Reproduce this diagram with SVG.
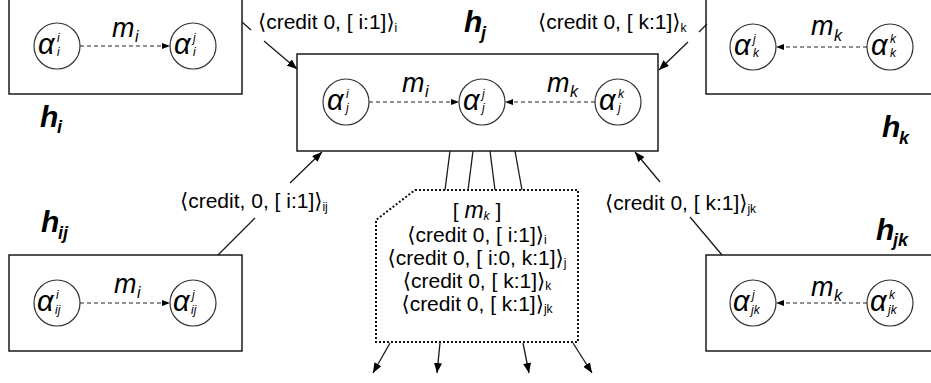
<svg xmlns="http://www.w3.org/2000/svg" width="931" height="383" viewBox="0 0 931 383">
<defs>
<marker id="ah" viewBox="0 0 10 8" refX="10" refY="4" markerWidth="10" markerHeight="8" markerUnits="userSpaceOnUse" orient="auto"><path d="M0 0 L10 4 L0 8 Z" fill="#000"/></marker>
<marker id="ahs" viewBox="0 0 8 6" refX="8" refY="3" markerWidth="8" markerHeight="6" markerUnits="userSpaceOnUse" orient="auto"><path d="M0 0 L8 3 L0 6 Z" fill="#000"/></marker>
<style>
.box{fill:#fff;stroke:#1a1a1a;stroke-width:1.5}
.c{fill:#fff;stroke:#333;stroke-width:1.2}
.a{font-family:"Liberation Sans",Arial,sans-serif;font-style:italic;font-size:29px;fill:#000}
.s{font-family:"Liberation Sans",Arial,sans-serif;font-style:italic;font-size:12px;fill:#000}
.h{font-family:"Liberation Sans",Arial,sans-serif;font-style:italic;font-weight:bold;font-size:30px;fill:#000}
.hs{font-family:"Liberation Sans",Arial,sans-serif;font-style:italic;font-weight:bold;font-size:18px;fill:#000}
.m{font-family:"Liberation Sans",Arial,sans-serif;font-style:italic;font-size:27px;fill:#000}
.ms{font-family:"Liberation Sans",Arial,sans-serif;font-style:italic;font-size:16px;fill:#000}
.t{font-family:"Liberation Sans",Arial,"DejaVu Sans",sans-serif;font-size:21px;fill:#000}
.ts{font-size:12px}
.ln{fill:none;stroke:#1a1a1a;stroke-width:1.3}
.dl{fill:none;stroke:#222;stroke-width:1.2;stroke-dasharray:4 3}
.dot{fill:none;stroke:#111;stroke-width:2;stroke-dasharray:2 2}
</style>
</defs>

<g id="h_i">
<rect class="box" x="9" y="-2" width="233" height="96"/>
<g id="a_i_i"><circle class="c" cx="57" cy="46" r="23"/><text class="a" x="38" y="54">α</text><text class="s" x="57" y="42">i</text><text class="s" x="57" y="56">i</text></g>
<g id="a_i_j"><circle class="c" cx="193" cy="46" r="23"/><text class="a" x="174" y="54">α</text><text class="s" x="193" y="42">j</text><text class="s" x="193" y="56">i</text></g>
<text class="h" x="40" y="127">h</text><text class="hs" x="57" y="133">i</text>
</g>

<g id="h_j">
<rect class="box" x="297" y="54" width="361" height="97"/>
<g id="a_j_i"><circle class="c" cx="346" cy="102" r="23"/><text class="a" x="327" y="110">α</text><text class="s" x="346" y="98">i</text><text class="s" x="346" y="112">j</text></g>
<g id="a_j_j"><circle class="c" cx="482" cy="102" r="23"/><text class="a" x="463" y="110">α</text><text class="s" x="482" y="98">j</text><text class="s" x="482" y="112">j</text></g>
<g id="a_j_k"><circle class="c" cx="618" cy="102" r="23"/><text class="a" x="599" y="110">α</text><text class="s" x="618" y="98">k</text><text class="s" x="618" y="112">j</text></g>
<text class="h" x="464" y="32">h</text><text class="hs" x="481" y="39">j</text>
</g>

<g id="h_k">
<rect class="box" x="706" y="-2" width="240" height="96"/>
<g id="a_k_j"><circle class="c" cx="753" cy="47" r="23"/><text class="a" x="734" y="55">α</text><text class="s" x="753" y="43">j</text><text class="s" x="753" y="57">k</text></g>
<g id="a_k_k"><circle class="c" cx="890" cy="47" r="23"/><text class="a" x="871" y="55">α</text><text class="s" x="890" y="43">k</text><text class="s" x="890" y="57">k</text></g>
<text class="h" x="882" y="137">h</text><text class="hs" x="899" y="144">k</text>
</g>

<g id="h_ij">
<rect class="box" x="9" y="255" width="233" height="96"/>
<g id="a_ij_i"><circle class="c" cx="57" cy="303" r="23"/><text class="a" x="37" y="311">α</text><text class="s" x="56" y="299">i</text><text class="s" x="55" y="314">ij</text></g>
<g id="a_ij_j"><circle class="c" cx="193" cy="303" r="23"/><text class="a" x="173" y="311">α</text><text class="s" x="192" y="299">j</text><text class="s" x="191" y="314">ij</text></g>
<text class="h" x="41" y="232">h</text><text class="hs" x="58" y="239">ij</text>
</g>

<g id="h_jk">
<rect class="box" x="706" y="255" width="240" height="96"/>
<g id="a_jk_j"><circle class="c" cx="753" cy="303" r="23"/><text class="a" x="733" y="311">α</text><text class="s" x="752" y="299">j</text><text class="s" x="751" y="314">jk</text></g>
<g id="a_jk_k"><circle class="c" cx="890" cy="303" r="23"/><text class="a" x="870" y="311">α</text><text class="s" x="889" y="299">k</text><text class="s" x="888" y="314">jk</text></g>
<text class="h" x="876" y="240">h</text><text class="hs" x="893" y="246">jk</text>
</g>

<g id="message">
<polygon class="dot" points="415,190 578,190 578,342 376,342 376,220"/>
<text class="t" text-anchor="middle" x="477" y="218">[ <tspan font-style="italic" font-size="23">m</tspan><tspan class="ts" font-style="italic" dy="2">k</tspan><tspan dy="-2"> ]</tspan></text>
<text class="t" text-anchor="middle" x="477" y="242">⟨credit 0, [ i:1]⟩<tspan class="ts" dy="2">i</tspan></text>
<text class="t" text-anchor="middle" x="477" y="265">⟨credit 0, [ i:0, k:1]⟩<tspan class="ts" dy="2">j</tspan></text>
<text class="t" text-anchor="middle" x="477" y="288">⟨credit 0, [ k:1]⟩<tspan class="ts" dy="2">k</tspan></text>
<text class="t" text-anchor="middle" x="477" y="311">⟨credit 0, [ k:1]⟩<tspan class="ts" dy="2">jk</tspan></text>
</g>

<g id="connectors">
<line class="dl" x1="80" y1="46" x2="170" y2="46" marker-end="url(#ahs)"/>
<text class="m" x="112" y="37">m</text><text class="ms" x="135" y="42">i</text>
<line class="dl" x1="369" y1="102" x2="459" y2="102" marker-end="url(#ahs)"/>
<text class="m" x="402" y="92">m</text><text class="ms" x="425" y="97">i</text>
<line class="dl" x1="595" y1="102" x2="505" y2="102" marker-end="url(#ahs)"/>
<text class="m" x="547" y="92">m</text><text class="ms" x="570" y="97">k</text>
<line class="dl" x1="867" y1="47" x2="776" y2="47" marker-end="url(#ahs)"/>
<text class="m" x="811" y="35">m</text><text class="ms" x="834" y="41">k</text>
<line class="dl" x1="80" y1="303" x2="170" y2="303" marker-end="url(#ahs)"/>
<text class="m" x="114" y="293">m</text><text class="ms" x="137" y="298">i</text>
<line class="dl" x1="867" y1="303" x2="776" y2="303" marker-end="url(#ahs)"/>
<text class="m" x="811" y="296">m</text><text class="ms" x="834" y="301">k</text>

<path class="ln" d="M242 22 L251 30 M264 41 L297 69" marker-end="url(#ah)"/>
<text class="t" x="258" y="29">⟨credit 0, [ i:1]⟩<tspan class="ts" dy="3">i</tspan></text>
<path class="ln" d="M707 24 L699 32 M688 42 L659 70" marker-end="url(#ah)"/>
<text class="t" x="538" y="29">⟨credit 0, [ k:1]⟩<tspan class="ts" dy="3">k</tspan></text>
<path class="ln" d="M218 255 L255 218 M290 183 L322 152" marker-end="url(#ah)"/>
<text class="t" x="180" y="208">⟨credit, 0, [ i:1]⟩<tspan class="ts" dy="3">ij</tspan></text>
<path class="ln" d="M722 255 L690 217 M660 182 L635 152" marker-end="url(#ah)"/>
<text class="t" x="605" y="210">⟨credit 0, [ k:1]⟩<tspan class="ts" dy="3">jk</tspan></text>

<line class="ln" x1="450" y1="151" x2="445" y2="190"/>
<line class="ln" x1="473" y1="151" x2="468" y2="190"/>
<line class="ln" x1="490" y1="151" x2="495" y2="190"/>
<line class="ln" x1="515" y1="151" x2="522" y2="190"/>

<line class="ln" x1="390" y1="343" x2="373" y2="373" marker-end="url(#ah)"/>
<line class="ln" x1="440" y1="343" x2="437" y2="373" marker-end="url(#ah)"/>
<line class="ln" x1="523" y1="343" x2="529" y2="373" marker-end="url(#ah)"/>
<line class="ln" x1="573" y1="343" x2="592" y2="373" marker-end="url(#ah)"/>
</g>
</svg>
